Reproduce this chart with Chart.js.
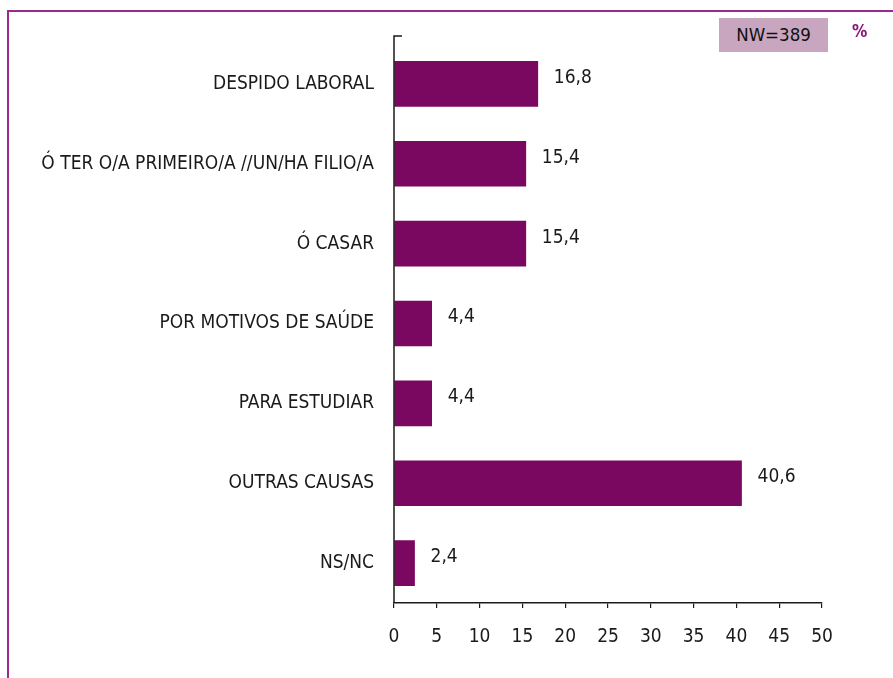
<!DOCTYPE html>
<html>
<head>
<meta charset="utf-8">
<script src="https://cdn.jsdelivr.net/npm/chart.js@4.4.1/dist/chart.umd.min.js"></script>
<style>
  html, body { margin:0; padding:0; background:#fff; overflow:hidden; }
  #wrap { position:relative; width:893px; height:678px; }
  #frame { position:absolute; left:7px; top:10px; width:900px; height:700px; border:2px solid #9b2a8c; box-sizing:border-box; }
  #nw { position:absolute; left:719px; top:18px; width:109px; height:34px; background:#c8a6bf;
        font:18.5px 'DejaVu Sans Condensed',sans-serif; color:#111; text-align:center; line-height:34px; }
  #pct { position:absolute; left:852px; top:21px; font:bold 17px 'DejaVu Sans Condensed',sans-serif; color:#8a1478; }
  canvas { position:absolute; left:0; top:0; }
</style>
</head>
<body>
<div id="wrap">
  <div id="frame"></div>
  <canvas id="chart" width="893" height="678"></canvas>
  <div id="nw">NW=389</div>
  <div id="pct">%</div>
</div>
<script>
// ── data ──────────────────────────────────────────────
const categories = ['DESPIDO LABORAL', 'Ó TER O/A PRIMEIRO/A //UN/HA FILIO/A', 'Ó CASAR',
  'POR MOTIVOS DE SAÚDE', 'PARA ESTUDIAR', 'OUTRAS CAUSAS', 'NS/NC'];
const values = [16.8, 15.4, 15.4, 4.4, 4.4, 40.6, 2.4];
const xTicks = [0, 5, 10, 15, 20, 25, 30, 35, 40, 45, 50];

const FONT = "'DejaVu Sans Condensed',sans-serif";
const BAR = '#7a0760';
const INK = '#1a1a1a';

// value labels + y axis line with the little stub on top
const extras = {
  id: 'extras',
  afterDatasetsDraw(chart) {
    const { ctx, chartArea } = chart;
    const meta = chart.getDatasetMeta(0);
    ctx.save();
    ctx.font = '19px ' + FONT;
    ctx.fillStyle = INK;
    ctx.textAlign = 'left';
    ctx.textBaseline = 'middle';
    meta.data.forEach((bar, i) => {
      ctx.fillText(values[i].toFixed(1).replace('.', ','), bar.x + 16, bar.y - 6);
    });
    // y axis
    ctx.strokeStyle = INK;
    ctx.lineWidth = 1.5;
    ctx.beginPath();
    ctx.moveTo(chartArea.left + 8, chartArea.top - 8);
    ctx.lineTo(chartArea.left, chartArea.top - 8);
    ctx.lineTo(chartArea.left, chartArea.bottom);
    ctx.stroke();
    ctx.restore();
  }
};

new Chart(document.getElementById('chart'), {
  type: 'bar',
  data: {
    labels: categories,
    datasets: [{ data: values, backgroundColor: BAR, barThickness: 45 }]
  },
  options: {
    indexAxis: 'y',
    responsive: false,
    animation: false,
    layout: { padding: { top: 44, right: 71, left: 0, bottom: 0 } },
    plugins: { legend: { display: false }, tooltip: { enabled: false } },
    scales: {
      x: {
        min: 0, max: 50,
        afterBuildTicks: s => { s.ticks = xTicks.map(v => ({ value: v })); },
        afterFit: s => { s.height = 75; },
        grid: { display: true, drawOnChartArea: false, drawTicks: true, tickLength: 5, color: INK, lineWidth: 1.2 },
        border: { display: true, color: INK, width: 1.5 },
        ticks: { color: INK, padding: 18, font: { family: FONT, size: 19 } }
      },
      y: {
        afterFit: s => { s.width = 394; },
        grid: { display: false, drawTicks: false },
        border: { display: false },
        ticks: { color: INK, padding: 20, font: { family: FONT, size: 19 } }
      }
    }
  },
  plugins: [extras]
});
</script>
</body>
</html>
